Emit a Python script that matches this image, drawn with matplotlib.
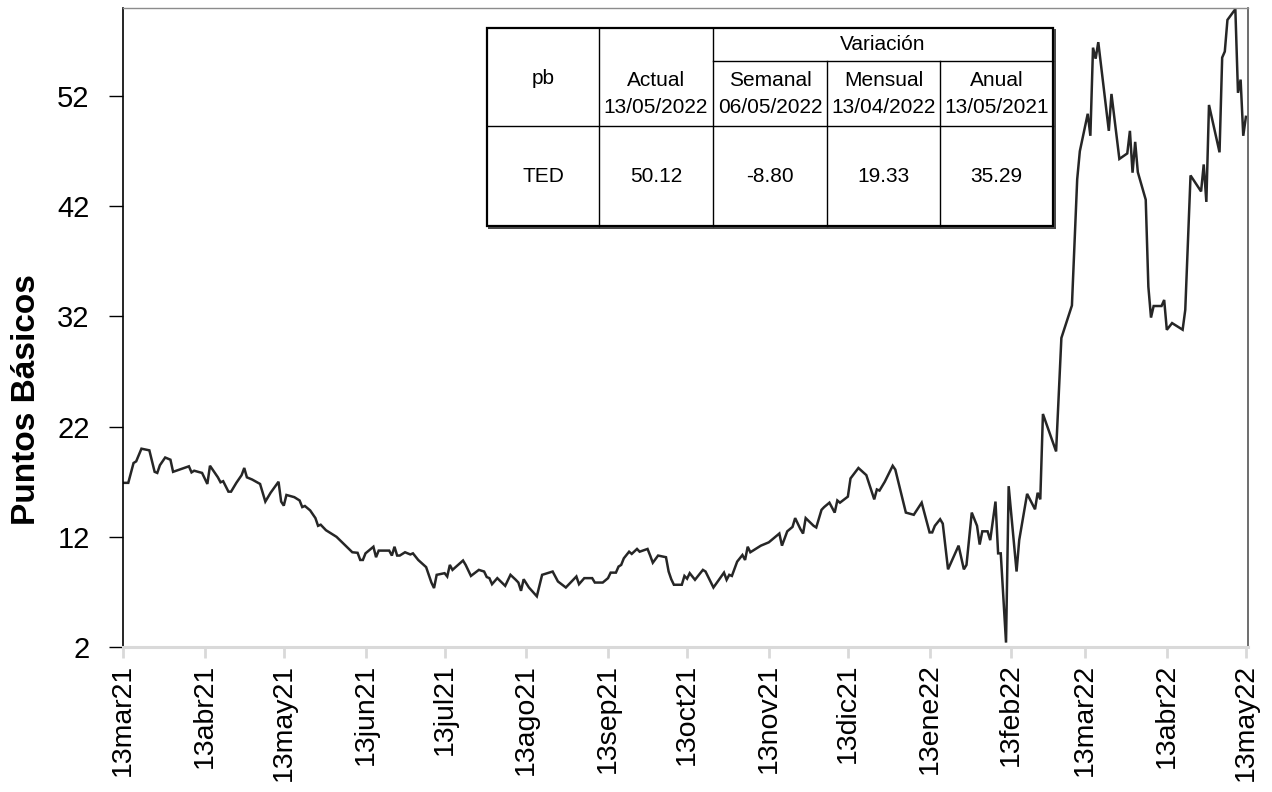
import matplotlib
matplotlib.use("Agg")
import matplotlib.pyplot as plt
from matplotlib.lines import Line2D
from matplotlib.patches import Rectangle
import pandas as pd

plt.rcParams['font.family'] = ['Liberation Sans', 'DejaVu Sans']

# TED spread (pb)
fechas = [
    "2021-03-13", "2021-03-15", "2021-03-17", "2021-03-18", "2021-03-20", "2021-03-23",
    "2021-03-25", "2021-03-26", "2021-03-27", "2021-03-29", "2021-03-31", "2021-04-01",
    "2021-04-07", "2021-04-08", "2021-04-09", "2021-04-12", "2021-04-14", "2021-04-15",
    "2021-04-18", "2021-04-19", "2021-04-20", "2021-04-22", "2021-04-23", "2021-04-25",
    "2021-04-27", "2021-04-28", "2021-04-29", "2021-05-01", "2021-05-04", "2021-05-06",
    "2021-05-08", "2021-05-11", "2021-05-12", "2021-05-13", "2021-05-14", "2021-05-17",
    "2021-05-19", "2021-05-20", "2021-05-21", "2021-05-23", "2021-05-25", "2021-05-26",
    "2021-05-27", "2021-05-29", "2021-06-02", "2021-06-05", "2021-06-08", "2021-06-10",
    "2021-06-11", "2021-06-12", "2021-06-13", "2021-06-16", "2021-06-17", "2021-06-18",
    "2021-06-22", "2021-06-23", "2021-06-24", "2021-06-25", "2021-06-26", "2021-06-28",
    "2021-06-30", "2021-07-01", "2021-07-03", "2021-07-06", "2021-07-08", "2021-07-09",
    "2021-07-10", "2021-07-13", "2021-07-14", "2021-07-15", "2021-07-16", "2021-07-20",
    "2021-07-21", "2021-07-23", "2021-07-26", "2021-07-28", "2021-07-29", "2021-07-30",
    "2021-07-31", "2021-08-02", "2021-08-05", "2021-08-07", "2021-08-09", "2021-08-10",
    "2021-08-11", "2021-08-12", "2021-08-14", "2021-08-17", "2021-08-19", "2021-08-23",
    "2021-08-25", "2021-08-28", "2021-09-01", "2021-09-02", "2021-09-04", "2021-09-07",
    "2021-09-08", "2021-09-11", "2021-09-13", "2021-09-14", "2021-09-16", "2021-09-17",
    "2021-09-18", "2021-09-19", "2021-09-21", "2021-09-22", "2021-09-24", "2021-09-25",
    "2021-09-28", "2021-09-29", "2021-09-30", "2021-10-02", "2021-10-05", "2021-10-06",
    "2021-10-07", "2021-10-08", "2021-10-11", "2021-10-12", "2021-10-13", "2021-10-14",
    "2021-10-16", "2021-10-19", "2021-10-20", "2021-10-23", "2021-10-27", "2021-10-28",
    "2021-10-29", "2021-10-30", "2021-11-01", "2021-11-03", "2021-11-04", "2021-11-05",
    "2021-11-06", "2021-11-10", "2021-11-13", "2021-11-17", "2021-11-18", "2021-11-20",
    "2021-11-22", "2021-11-23", "2021-11-25", "2021-11-26", "2021-11-27", "2021-11-30",
    "2021-12-01", "2021-12-03", "2021-12-04", "2021-12-06", "2021-12-08", "2021-12-09",
    "2021-12-10", "2021-12-13", "2021-12-14", "2021-12-17", "2021-12-20", "2021-12-23",
    "2021-12-24", "2021-12-25", "2021-12-27", "2021-12-30", "2021-12-31", "2022-01-04",
    "2022-01-07", "2022-01-10", "2022-01-13", "2022-01-14", "2022-01-15", "2022-01-17",
    "2022-01-18", "2022-01-20", "2022-01-24", "2022-01-26", "2022-01-27", "2022-01-29",
    "2022-01-31", "2022-02-01", "2022-02-02", "2022-02-04", "2022-02-05", "2022-02-07",
    "2022-02-08", "2022-02-09", "2022-02-11", "2022-02-12", "2022-02-15", "2022-02-16",
    "2022-02-19", "2022-02-22", "2022-02-23", "2022-02-24", "2022-02-25", "2022-03-02",
    "2022-03-04", "2022-03-08", "2022-03-10", "2022-03-11", "2022-03-14", "2022-03-15",
    "2022-03-16", "2022-03-17", "2022-03-18", "2022-03-22", "2022-03-23", "2022-03-26",
    "2022-03-29", "2022-03-30", "2022-03-31", "2022-04-01", "2022-04-02", "2022-04-05",
    "2022-04-06", "2022-04-07", "2022-04-08", "2022-04-11", "2022-04-12", "2022-04-13",
    "2022-04-15", "2022-04-19", "2022-04-20", "2022-04-22", "2022-04-26", "2022-04-27",
    "2022-04-28", "2022-04-29", "2022-05-03", "2022-05-04", "2022-05-05", "2022-05-06",
    "2022-05-09", "2022-05-10", "2022-05-11", "2022-05-12", "2022-05-13",
]
ted = [
    16.9, 16.9, 18.7, 18.85, 20.0, 19.85,
    17.9, 17.8, 18.5, 19.2, 19.0, 17.9,
    18.4, 17.85, 18.0, 17.8, 16.8, 18.45,
    17.4, 16.95, 17.05, 16.1, 16.1, 16.9,
    17.6, 18.25, 17.4, 17.2, 16.8, 15.2,
    16.0, 17.0, 15.2, 14.83, 15.8, 15.6,
    15.3, 14.7, 14.8, 14.4, 13.7, 13.0,
    13.1, 12.6, 12.0, 11.3, 10.6, 10.55,
    9.9, 9.9, 10.5, 11.1, 10.15, 10.75,
    10.75, 10.3, 11.1, 10.3, 10.3, 10.6,
    10.4, 10.5, 9.9, 9.25, 7.85, 7.35,
    8.55, 8.7, 8.4, 9.45, 9.0, 9.85,
    9.45, 8.45, 9.0, 8.85, 8.35, 8.25,
    7.7, 8.25, 7.55, 8.55, 8.1, 7.85,
    7.1, 8.15, 7.4, 6.6, 8.55, 8.85,
    7.95, 7.4, 8.4, 7.7, 8.25, 8.25,
    7.85, 7.85, 8.25, 8.75, 8.75, 9.3,
    9.45, 10.05, 10.65, 10.45, 10.9, 10.65,
    10.9, 10.3, 9.65, 10.3, 10.15, 8.85,
    8.15, 7.65, 7.65, 8.45, 8.2, 8.7,
    8.1, 9.0, 8.85, 7.4, 8.75, 8.1,
    8.55, 8.45, 9.75, 10.35, 9.9, 11.1,
    10.6, 11.2, 11.5, 12.3, 11.2, 12.5,
    12.9, 13.7, 12.7, 12.3, 13.7, 13.0,
    12.85, 14.45, 14.7, 15.1, 14.2, 15.3,
    15.1, 15.65, 17.3, 18.25, 17.6, 15.4,
    16.3, 16.2, 17.0, 18.45, 18.1, 14.2,
    14.0, 15.1, 12.4, 12.4, 13.0, 13.6,
    13.2, 9.05, 11.2, 9.05, 9.45, 14.2,
    13.0, 11.3, 12.5, 12.5, 11.7, 15.2,
    10.5, 10.5, 2.4, 16.6, 8.85, 11.7,
    15.9, 14.5, 16.0, 15.4, 23.15, 19.75,
    30.05, 33.0, 44.45, 47.0, 50.4, 48.4,
    56.4, 55.4, 56.9, 48.85, 52.2, 46.3,
    46.8, 48.85, 45.05, 47.85, 45.1, 42.6,
    34.7, 31.9, 32.95, 32.95, 33.5, 30.79,
    31.4, 30.8, 32.6, 44.8, 43.35, 45.8,
    42.4, 51.2, 46.9, 55.5, 56.05, 58.92,
    59.9, 52.3, 53.5, 48.4, 50.12,
]

tick_fechas = ["2021-03-13", "2021-04-13", "2021-05-13", "2021-06-13", "2021-07-13",
               "2021-08-13", "2021-09-13", "2021-10-13", "2021-11-13", "2021-12-13",
               "2022-01-13", "2022-02-13", "2022-03-13", "2022-04-13", "2022-05-13"]
tick_labels = ["13mar21", "13abr21", "13may21", "13jun21", "13jul21", "13ago21",
               "13sep21", "13oct21", "13nov21", "13dic21", "13ene22", "13feb22",
               "13mar22", "13abr22", "13may22"]
y_ticks = [2, 12, 22, 32, 42, 52]

# tabla
col_headers = ["Semanal\n06/05/2022", "Mensual\n13/04/2022", "Anual\n13/05/2021"]
fila_nombre = "TED"
actual = "50.12"
variaciones = ["-8.80", "19.33", "35.29"]

W, H = 1272, 792
fig = plt.figure(figsize=(W / 100, H / 100), dpi=100)
ax = fig.add_axes([123 / W, 1 - 647 / H, (1248 - 123) / W, (647 - 8) / H])

x = pd.to_datetime(fechas)
ax.plot(x, ted, color="#262626", lw=1.8, solid_joinstyle="miter")

ax.set_ylim(2, 60)
ax.set_yticks(y_ticks)
ax.set_xlim(pd.Timestamp("2021-03-13"), pd.Timestamp("2022-05-13") + pd.Timedelta(days=0.8))
ax.set_xticks(pd.to_datetime(tick_fechas))
ax.set_xticklabels(tick_labels, rotation=90)

ax.tick_params(axis="y", labelsize=21, length=10, width=1, color="black", pad=14)
ax.tick_params(axis="x", labelsize=20.5, length=8, width=2, color="#d9d9d9", pad=4)

ax.spines["left"].set_color("black")
ax.spines["left"].set_linewidth(1.2)
ax.spines["bottom"].set_color("#d9d9d9")
ax.spines["bottom"].set_linewidth(2.2)
ax.spines["top"].set_color("#8c8c8c")
ax.spines["top"].set_linewidth(1)
ax.spines["right"].set_color("#555555")
ax.spines["right"].set_linewidth(1.2)

fig.text(27 / W, 1 - 400 / H, "Puntos Básicos", rotation=90, fontsize=24,
         fontweight="bold", ha="center", va="center")


def fx(px):
    return px / W


def fy(py):
    return 1 - py / H


def linea(x0, y0, x1, y1, lw=1.0, color="black"):
    fig.add_artist(Line2D([fx(x0), fx(x1)], [fy(y0), fy(y1)], color=color,
                          lw=lw, solid_capstyle="projecting"))


# caja de la tabla
L, R, T, B = 487, 1053, 28, 226
cols = [487, 599, 713, 827, 940, 1053]
fig.add_artist(Rectangle((fx(L), fy(B)), fx(R) - fx(L), fy(T) - fy(B),
                         facecolor="white", edgecolor="black", lw=1.6))
linea(L + 2, B + 2, R + 2, B + 2, lw=1.4, color="#444444")
linea(R + 2, T + 2, R + 2, B + 2, lw=1.4, color="#444444")
for c in cols[1:3]:
    linea(c, T, c, B)
for c in cols[3:5]:
    linea(c, 61, c, B)
linea(713, 61, R, 61)
linea(L, 126, R, 126)

fs = 15
fig.text(fx(543), fy(78), "pb", fontsize=fs, ha="center", va="center")
fig.text(fx(656), fy(94), "Actual\n13/05/2022", fontsize=fs, ha="center", va="center",
         linespacing=1.5)
fig.text(fx(883), fy(45), "Variación", fontsize=fs, ha="center", va="center")
for i, h in enumerate(col_headers):
    cx = (cols[i + 2] + cols[i + 3]) / 2
    fig.text(fx(cx), fy(94), h, fontsize=fs, ha="center", va="center", linespacing=1.5)

fila = [fila_nombre, actual] + variaciones
for i, v in enumerate(fila):
    cx = (cols[i] + cols[i + 1]) / 2
    fig.text(fx(cx), fy(177), v, fontsize=fs, ha="center", va="center")

fig.savefig("out.png", dpi=100)
